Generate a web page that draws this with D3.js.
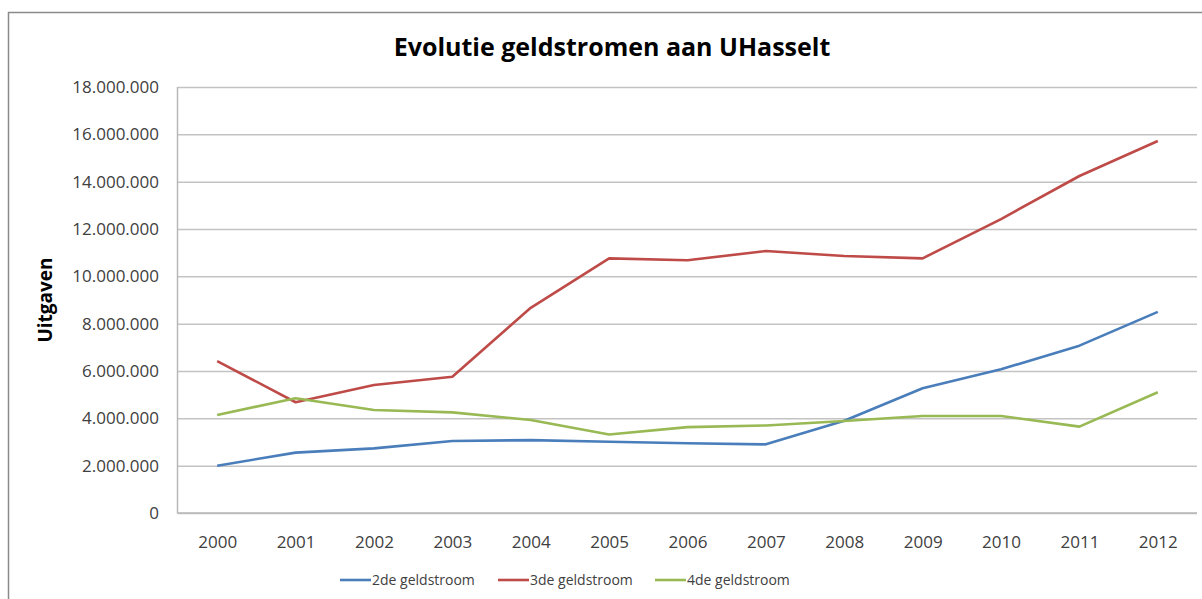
<!DOCTYPE html>
<html>
<head>
<meta charset="utf-8">
<script src="https://cdn.jsdelivr.net/npm/d3@7"></script>
<style>
  body { margin: 0; background: #fff; }
  text { font-family: "Open Sans", "Noto Sans", sans-serif; }
</style>
</head>
<body>
<div id="chart"></div>
<script>
// data
var years = ["2000","2001","2002","2003","2004","2005","2006","2007","2008","2009","2010","2011","2012"];
var tweede = [2000000, 2550000, 2730000, 3040000, 3080000, 3010000, 2950000, 2900000, 3900000, 5270000, 6070000, 7070000, 8500000];
var derde = [6420000, 4680000, 5410000, 5760000, 8670000, 10760000, 10680000, 11070000, 10860000, 10760000, 12420000, 14240000, 15720000];
var vierde = [4140000, 4850000, 4350000, 4250000, 3930000, 3320000, 3630000, 3700000, 3890000, 4100000, 4100000, 3650000, 5100000];
var yTicks = [0, 2000000, 4000000, 6000000, 8000000, 10000000, 12000000, 14000000, 16000000, 18000000];

var series = [
  {name: "2de geldstroom", values: tweede, color: "#4a7ebb"},
  {name: "3de geldstroom", values: derde, color: "#be4b48"},
  {name: "4de geldstroom", values: vierde, color: "#98b954"}
];

var W = 1202, H = 599;
var margin = {top: 87, right: 5, bottom: 86, left: 178},
    width = W - margin.left - margin.right,
    height = H - margin.top - margin.bottom;

var svg = d3.select("#chart").append("svg")
    .attr("width", W)
    .attr("height", H);

// outer chart frame
svg.append("rect")
    .attr("x", 8.5).attr("y", 12.5)
    .attr("width", W).attr("height", H)
    .attr("fill", "none")
    .attr("stroke", "#8a8a8a")
    .attr("stroke-width", 1.5);

var g = svg.append("g")
    .attr("transform", "translate(" + margin.left + "," + margin.top + ")");

// scales
var x = d3.scalePoint().domain(years).range([0, width]).padding(0.5);
var y = d3.scaleLinear().domain([0, 18000000]).range([height, 0]);

// number format with dots
var fmt = function(v) { return d3.format(",")(v).replace(/,/g, "."); };

// gridlines
g.append("g").attr("class", "grid")
    .call(d3.axisLeft(y).tickValues(yTicks).tickSize(-width).tickFormat(""))
    .call(function(s) { s.select(".domain").remove(); })
    .selectAll("line")
    .attr("stroke", "#c3c3c3")
    .attr("stroke-width", 1.5);

// y axis labels
var yAxis = g.append("g")
    .call(d3.axisLeft(y).tickValues(yTicks).tickSize(0).tickPadding(19).tickFormat(fmt));
yAxis.select(".domain").remove();
yAxis.selectAll("text")
    .attr("font-size", "17px")
    .attr("fill", "#404040")
    .style("font-family", "'Open Sans', sans-serif");

// x axis labels
var xAxis = g.append("g")
    .attr("transform", "translate(0," + height + ")")
    .call(d3.axisBottom(x).tickSize(0).tickPadding(23));
xAxis.select(".domain").remove();
xAxis.selectAll("text")
    .attr("font-size", "17px")
    .attr("fill", "#404040");

// plot area left and bottom border
g.append("line").attr("x1", -0.5).attr("x2", -0.5).attr("y1", 0).attr("y2", height + 0.5)
    .attr("stroke", "#b8b8b8").attr("stroke-width", 1.5);
g.append("line").attr("x1", -0.5).attr("x2", width).attr("y1", height).attr("y2", height)
    .attr("stroke", "#b8b8b8").attr("stroke-width", 1.5);

// lines
var line = d3.line()
    .x(function(d, i) { return x(years[i]); })
    .y(function(d) { return y(d); });

g.selectAll(".serie")
    .data(series)
  .enter().append("path")
    .attr("class", "serie")
    .attr("d", function(d) { return line(d.values); })
    .attr("fill", "none")
    .attr("stroke", function(d) { return d.color; })
    .attr("stroke-width", 2.6)
    .attr("stroke-linejoin", "round");

// title
svg.append("text")
    .attr("x", 612).attr("y", 56)
    .attr("text-anchor", "middle")
    .attr("font-size", "25px")
    .attr("font-weight", "bold")
    .attr("fill", "#000")
    .text("Evolutie geldstromen aan UHasselt");

// y title
svg.append("text")
    .attr("transform", "translate(52,300) rotate(-90)")
    .attr("text-anchor", "middle")
    .attr("font-size", "19px")
    .attr("font-weight", "bold")
    .attr("fill", "#000")
    .text("Uitgaven");

// legend
var legendX = [340, 498, 655];
var legend = svg.selectAll(".legend")
    .data(series)
  .enter().append("g")
    .attr("class", "legend")
    .attr("transform", function(d, i) { return "translate(" + legendX[i] + ",580)"; });
legend.append("line")
    .attr("x1", 0).attr("x2", 31)
    .attr("stroke", function(d) { return d.color; })
    .attr("stroke-width", 2.6);
legend.append("text")
    .attr("x", 32).attr("y", 5)
    .attr("font-size", "14px")
    .attr("fill", "#404040")
    .text(function(d) { return d.name; });
</script>
</body>
</html>
